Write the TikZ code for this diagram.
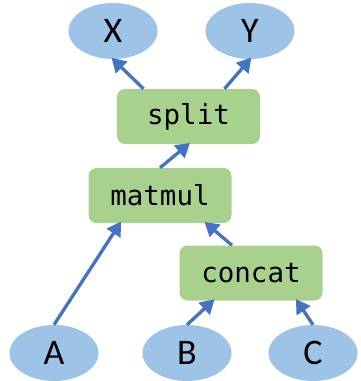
\documentclass[tikz,border=0pt]{standalone}
\usepackage{fontspec}
\setmainfont{Carlito}
\newfontfamily\opfont{DejaVu Sans Mono}
\usetikzlibrary{arrows.meta,shapes.geometric}
\definecolor{tensorblue}{HTML}{9DC3E6}
\definecolor{opgreen}{HTML}{A9D18E}
\definecolor{edgeblue}{HTML}{4472C4}
\tikzset{
  tensor/.style={ellipse, fill=tensorblue, minimum width=89pt, minimum height=56pt,
    inner sep=0pt, font=\fontsize{36}{36}\selectfont},
  opbox/.style={rectangle, rounded corners=8pt, fill=opgreen, minimum width=143pt,
    minimum height=55pt, inner sep=0pt, font=\opfont\fontsize{27.5}{27.5}\selectfont},
  flow/.style={draw=edgeblue, line width=3.3pt,
    -{Triangle[length=14pt,width=16pt]}, shorten >=-2pt}
}
\begin{document}
\begin{tikzpicture}[x=1pt,y=-1pt]
  \useasboundingbox (0,0) rectangle (360,381);
  % tensors
  \node[tensor] (X) at (113,31) {X};
  \node[tensor] (Y) at (250,31) {Y};
  \node[tensor] (A) at (54,353) {A};
  \node[tensor] (B) at (187,353) {B};
  \node[tensor] (C) at (313,353) {C};
  % operations
  \node[opbox] (split) at (188.5,116.5) {split};
  \node[opbox] (matmul) at (160,195.5) {matmul};
  \node[opbox] (concat) at (251,273) {concat};
  % data flow
  \draw[flow] ([xshift=-45pt]split.north) -- (X.south);
  \draw[flow] ([xshift=36pt]split.north) -- (Y.south);
  \draw[flow] (matmul.north) -- (split.south);
  \draw[flow] (A.north) -- ([xshift=-40pt]matmul.south);
  \draw[flow] ([xshift=-19pt]concat.north) -- ([xshift=46pt]matmul.south);
  \draw[flow] (B.north) -- ([xshift=-38pt]concat.south);
  \draw[flow] (C.north) -- ([xshift=46pt]concat.south);
\end{tikzpicture}
\end{document}
